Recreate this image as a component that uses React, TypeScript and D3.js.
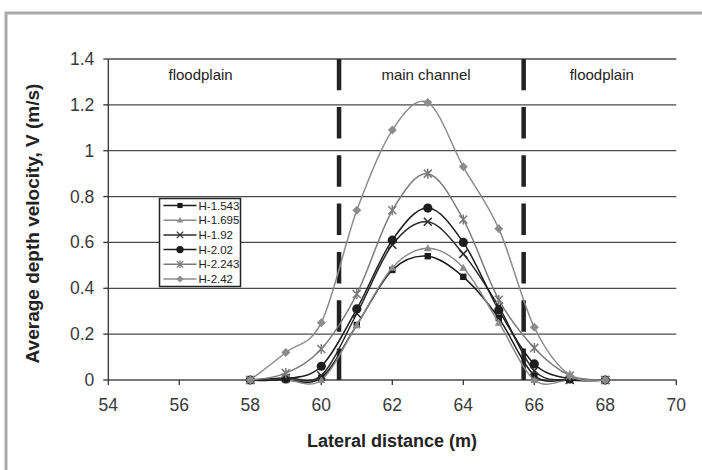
import React from "react";
import * as d3 from "d3";

// lateral positions of the measuring verticals (m)
const distances = [58, 59, 60, 61, 62, 63, 64, 65, 66, 67, 68];

// average depth velocity (m/s) for each stage
const h1543 = [0, 0, 0.01, 0.24, 0.48, 0.54, 0.45, 0.27, 0.02, 0, 0];
const h1695 = [0, 0, 0, 0.24, 0.49, 0.575, 0.49, 0.25, 0, 0, 0];
const h192 = [0, 0.01, 0.02, 0.29, 0.59, 0.69, 0.55, 0.32, 0.04, 0, 0];
const h202 = [0, 0.005, 0.06, 0.31, 0.61, 0.75, 0.6, 0.305, 0.07, 0.005, 0];
const h2243 = [0, 0.03, 0.135, 0.375, 0.74, 0.9, 0.7, 0.35, 0.14, 0.02, 0];
const h242 = [0, 0.12, 0.25, 0.74, 1.09, 1.21, 0.93, 0.66, 0.23, 0.02, 0];

const seriesNames = ["H-1.543", "H-1.695", "H-1.92", "H-2.02", "H-2.243", "H-2.42"];
const seriesValues = [h1543, h1695, h192, h202, h2243, h242];
const seriesColors = ["#1c1c1c", "#8a8a8a", "#2a2a2a", "#1e1e1e", "#7a7a7a", "#8c8c8c"];
const seriesMarkers = ["square", "triangle", "cross", "circle", "star", "diamond"];

const xTicks = [54, 56, 58, 60, 62, 64, 66, 68, 70];
const yTicks = [0, 0.2, 0.4, 0.6, 0.8, 1, 1.2, 1.4];
const boundaries = [60.5, 65.7];
const zones = [
  { label: "floodplain", x: 56.6 },
  { label: "main channel", x: 62.95 },
  { label: "floodplain", x: 67.9 },
];

const font = "'Liberation Sans', Arial, sans-serif";

const x = d3.scaleLinear().domain([54, 70]).range([108.3, 676.3]);
const y = d3.scaleLinear().domain([0, 1.4]).range([380, 59]);

function Marker({ type, cx, cy, color, s = 1 }: { type: string; cx: number; cy: number; color: string; s?: number }) {
  const t = `translate(${cx},${cy}) scale(${s})`;
  switch (type) {
    case "square":
      return <rect x={-3.2} y={-3.2} width={6.4} height={6.4} fill={color} transform={t} />;
    case "triangle":
      return <path d="M0,-4L4,3L-4,3Z" fill={color} transform={t} />;
    case "cross":
      return <path d="M-4,-4L4,4M-4,4L4,-4" stroke={color} strokeWidth={1.5} fill="none" transform={t} />;
    case "circle":
      return <circle r={4.6} fill={color} transform={t} />;
    case "star":
      return <path d="M-4,-4L4,4M-4,4L4,-4M0,-5L0,5" stroke={color} strokeWidth={1.5} fill="none" transform={t} />;
    default:
      return <path d="M0,-4.5L4.5,0L0,4.5L-4.5,0Z" fill={color} transform={t} />;
  }
}

export default function App() {
  const line = d3
    .line<number>()
    .x((_, i) => x(distances[i]))
    .y((v) => y(v))
    .curve(d3.curveCardinal.tension(0));

  const legendX = 159.5;
  const legendY = 198.5;
  const rowH = 14.7;

  return (
    <svg width={702} height={470} style={{ position: "absolute", left: 0, top: 0, background: "#fff" }}>
      {/* outer frame */}
      <rect x={6} y={13} width={720} height={480} fill="none" stroke="#aaaaaa" strokeWidth={3} />

      {/* horizontal gridlines */}
      {yTicks.map((t) => (
        <line key={t} x1={x(54)} x2={x(70)} y1={y(t)} y2={y(t)} stroke="#4a4a4a" strokeWidth={1.3} />
      ))}

      {/* axes */}
      <line x1={x(54)} x2={x(54)} y1={y(0)} y2={y(1.4)} stroke="#333" strokeWidth={1.3} />
      {yTicks.map((t) => (
        <g key={"yt" + t}>
          <line x1={x(54) - 5} x2={x(54)} y1={y(t)} y2={y(t)} stroke="#333" strokeWidth={1.3} />
          <text x={x(54) - 14} y={y(t) + 6} textAnchor="end" fontFamily={font} fontSize={17.5} fill="#3a3a3a">
            {String(t)}
          </text>
        </g>
      ))}
      {xTicks.map((t) => (
        <g key={"xt" + t}>
          <line x1={x(t)} x2={x(t)} y1={y(0)} y2={y(0) + 5} stroke="#333" strokeWidth={1.3} />
          <text x={x(t)} y={y(0) + 31} textAnchor="middle" fontFamily={font} fontSize={17.5} fill="#3a3a3a">
            {t}
          </text>
        </g>
      ))}

      {/* zone boundaries */}
      {boundaries.map((b) => (
        <line
          key={b}
          x1={x(b)}
          x2={x(b)}
          y1={y(0)}
          y2={y(1.4)}
          stroke="#222"
          strokeWidth={4.5}
          strokeDasharray="31.5 16.8"
        />
      ))}
      {zones.map((z, i) => (
        <text key={i} x={x(z.x)} y={80} textAnchor="middle" fontFamily={font} fontSize={15} fill="#222">
          {z.label}
        </text>
      ))}

      {/* series */}
      {seriesValues.map((vals, si) => (
        <g key={seriesNames[si]}>
          <path d={line(vals) ?? ""} fill="none" stroke={seriesColors[si]} strokeWidth={1.5} />
          {vals.map((v, i) => (
            <Marker key={i} type={seriesMarkers[si]} cx={x(distances[i])} cy={y(v)} color={seriesColors[si]} />
          ))}
        </g>
      ))}

      {/* legend */}
      <rect x={legendX} y={legendY} width={81} height={88} fill="#fff" stroke="#222" strokeWidth={1.5} />
      {seriesNames.map((n, i) => {
        const cy = legendY + 7 + i * rowH;
        return (
          <g key={n}>
            <line x1={legendX + 4} x2={legendX + 37} y1={cy} y2={cy} stroke={seriesColors[i]} strokeWidth={1.5} />
            <Marker type={seriesMarkers[i]} cx={legendX + 20.5} cy={cy} color={seriesColors[i]} s={0.8} />
            <text x={legendX + 39} y={cy + 4} fontFamily={font} fontSize={11.5} fill="#222">
              {n}
            </text>
          </g>
        );
      })}

      {/* axis titles */}
      <text x={392} y={447} textAnchor="middle" fontFamily={font} fontSize={18} fontWeight="bold" fill="#222">
        Lateral distance (m)
      </text>
      <text
        transform={`translate(39,${(y(0) + y(1.4)) / 2 + 4}) rotate(-90)`}
        textAnchor="middle"
        fontFamily={font}
        fontSize={19}
        fontWeight="bold"
        fill="#222"
      >
        Average depth velocity, V (m/s)
      </text>
    </svg>
  );
}
